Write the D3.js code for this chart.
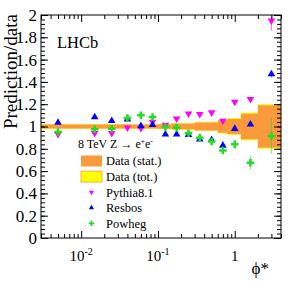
<!DOCTYPE html>
<html>
<head>
<meta charset="utf-8">
<script src="https://cdn.jsdelivr.net/npm/d3@7"></script>
<style>
  body { margin: 0; background: #fff; }
  svg { display: block; }
  text { font-family: "Liberation Serif", "Times New Roman", serif; fill: #000; }
</style>
</head>
<body>
<div id="chart"></div>
<script>
// phi* bins
const binLow  = [0, 0.01, 0.02, 0.03, 0.05, 0.07, 0.10, 0.15, 0.20, 0.30, 0.40, 0.60, 0.80, 1.20, 2.00];
const binHigh = [0.01, 0.02, 0.03, 0.05, 0.07, 0.10, 0.15, 0.20, 0.30, 0.40, 0.60, 0.80, 1.20, 2.00, 4.00];
const binCenter = [0.005, 0.015, 0.025, 0.04, 0.06, 0.085, 0.125, 0.175, 0.25, 0.35, 0.5, 0.7, 1.0, 1.6, 3.0];

// data uncertainty bands (half widths around 1)
const statErr = [0.018, 0.018, 0.018, 0.018, 0.018, 0.018, 0.02, 0.026, 0.026, 0.036, 0.036, 0.056, 0.068, 0.115, 0.19];
const totErr  = [0.021, 0.021, 0.021, 0.021, 0.021, 0.021, 0.024, 0.03, 0.03, 0.04, 0.04, 0.062, 0.076, 0.125, 0.2];

// predictions / data
const pythia    = [0.93, 0.94, 0.94, 0.99, 0.985, 1.04, 1.015, 1.07, 1.115, 1.11, 1.125, 1.05, 1.22, 1.245, 1.95];
const pythiaErr = [0.005, 0.005, 0.005, 0.005, 0.005, 0.005, 0.005, 0.005, 0.005, 0.005, 0.006, 0.008, 0.01, 0.02, 0.09];
const resbos    = [1.035, 1.085, 1.05, 1.065, 1.005, 1.015, 0.93, 0.93, 0.925, 0.885, 0.88, 0.83, 0.98, 1.02, 1.47];
const resbosErr = [0.005, 0.005, 0.005, 0.005, 0.005, 0.005, 0.005, 0.005, 0.005, 0.005, 0.006, 0.008, 0.01, 0.015, 0.03];
const powheg    = [0.95, 0.975, 0.98, 1.075, 1.10, 1.085, 0.995, 0.99, 0.94, 0.90, 0.865, 0.785, 0.84, 0.675, 0.915];
const powhegErr = [0.008, 0.008, 0.008, 0.008, 0.008, 0.008, 0.008, 0.01, 0.01, 0.012, 0.015, 0.02, 0.04, 0.06, 0.16];

const yTicks = [0, 0.2, 0.4, 0.6, 0.8, 1, 1.2, 1.4, 1.6, 1.8, 2];
const xMajor = [0.01, 0.1, 1];
const xLabels = [["10", "-2"], ["10", "-1"], ["1", ""]];

const legendItems = ["Data (stat.)", "Data (tot.)", "Pythia8.1", "Resbos", "Powheg"];

// layout
const WIDTH = 296, HEIGHT = 284;
const MARGINS = {left: 41, right: 15, top: 15, bottom: 46};
const VIS_W = WIDTH - MARGINS.left - MARGINS.right;
const VIS_H = HEIGHT - MARGINS.top - MARGINS.bottom;

const COL_STAT = "#fb9a3c", COL_TOT = "#ffff00";
const COL_PY = "#ff00ff", COL_RB = "#0000ff", COL_PW = "#22dd22";

const xScale = d3.scaleLog().domain([0.003, 4]).range([0, VIS_W]);
const yScale = d3.scaleLinear().domain([0, 2]).range([VIS_H, 0]);

const svg = d3.select("#chart").append("svg")
  .attr("width", WIDTH).attr("height", HEIGHT);

svg.append("defs").append("clipPath").attr("id", "clip")
  .append("rect").attr("width", VIS_W).attr("height", VIS_H);

const g = svg.append("g").attr("transform", `translate(${MARGINS.left},${MARGINS.top})`);
const plot = g.append("g").attr("clip-path", "url(#clip)");

const dmin = xScale.domain()[0];
const bx0 = i => xScale(Math.max(binLow[i], dmin));
const bx1 = i => xScale(binHigh[i]);

// bands: total then stat on top
plot.selectAll(".tot").data(binLow).join("rect")
  .attr("x", (d, i) => bx0(i)).attr("width", (d, i) => bx1(i) - bx0(i) + 0.3)
  .attr("y", (d, i) => yScale(1 + totErr[i]))
  .attr("height", (d, i) => yScale(1 - totErr[i]) - yScale(1 + totErr[i]))
  .attr("fill", COL_TOT);
plot.selectAll(".stat").data(binLow).join("rect")
  .attr("x", (d, i) => bx0(i)).attr("width", (d, i) => bx1(i) - bx0(i) + 0.3)
  .attr("y", (d, i) => yScale(1 + statErr[i]))
  .attr("height", (d, i) => yScale(1 - statErr[i]) - yScale(1 + statErr[i]))
  .attr("fill", COL_STAT);

const triUp = d3.symbol(d3.symbolTriangle).size(25)();
const cross = d3.symbol(d3.symbolCross).size(32)();

function series(vals, errs, color, path, rot) {
  const s = plot.append("g");
  s.selectAll("line").data(vals).join("line")
    .attr("x1", (d, i) => xScale(binCenter[i])).attr("x2", (d, i) => xScale(binCenter[i]))
    .attr("y1", (d, i) => yScale(d + errs[i])).attr("y2", (d, i) => yScale(d - errs[i]))
    .attr("stroke", color).attr("stroke-width", 1).attr("opacity", 0.6);
  s.selectAll("path").data(vals).join("path")
    .attr("d", path)
    .attr("transform", (d, i) => `translate(${xScale(binCenter[i])},${yScale(d)}) rotate(${rot})`)
    .attr("fill", color);
}
series(pythia, pythiaErr, COL_PY, triUp, 180);
series(resbos, resbosErr, COL_RB, triUp, 0);
series(powheg, powhegErr, COL_PW, cross, 0);

// axes (ticks inward)
const yMinor = d3.range(0, 2.0001, 0.04);
function yAxis(axisFn, tx, dir) {
  g.append("g").attr("transform", `translate(${tx},0)`)
    .call(axisFn(yScale).tickValues(yMinor).tickSize(dir * 4).tickFormat(""))
    .call(a => a.select(".domain").remove());
  g.append("g").attr("transform", `translate(${tx},0)`)
    .call(axisFn(yScale).tickValues(yTicks).tickSize(dir * 7).tickFormat(""))
    .call(a => a.select(".domain").remove());
}
yAxis(d3.axisLeft, 0, -1);
yAxis(d3.axisRight, VIS_W, -1);

const xMinor = [];
[0.001, 0.01, 0.1, 1].forEach(b => { for (let k = 2; k <= 9; k++) { const v = b * k; if (v >= 0.003 && v <= 4) xMinor.push(v); } });
function xAxis(axisFn, ty) {
  g.append("g").attr("transform", `translate(0,${ty})`)
    .call(axisFn(xScale).tickValues(xMinor).tickSize(-4).tickFormat(""))
    .call(a => a.select(".domain").remove());
  g.append("g").attr("transform", `translate(0,${ty})`)
    .call(axisFn(xScale).tickValues(xMajor).tickSize(-7).tickFormat(""))
    .call(a => a.select(".domain").remove());
}
xAxis(d3.axisBottom, VIS_H);
xAxis(d3.axisTop, 0);

g.append("rect").attr("width", VIS_W).attr("height", VIS_H)
  .attr("fill", "none").attr("stroke", "#000").attr("stroke-width", 1);

// tick labels
g.selectAll(".ylab").data(yTicks).join("text")
  .attr("x", -4).attr("y", d => yScale(d)).attr("dy", "0.35em")
  .attr("text-anchor", "end").attr("font-size", 17)
  .text(d => d3.format("")(d));

const xl = g.selectAll(".xlab").data(xMajor).join("text")
  .attr("x", d => xScale(d)).attr("y", VIS_H + 23)
  .attr("text-anchor", "middle").attr("font-size", 15);
xl.append("tspan").text((d, i) => xLabels[i][0]);
xl.append("tspan").attr("dy", -6).attr("font-size", 10).text((d, i) => xLabels[i][1]);

// axis titles
svg.append("text").attr("transform", `translate(17,${MARGINS.top - 1}) rotate(-90)`)
  .attr("text-anchor", "end").attr("font-size", 19).text("Prediction/data");
svg.append("text").attr("x", MARGINS.left + VIS_W - 12).attr("y", 274)
  .attr("text-anchor", "end").attr("font-size", 17).text("ϕ*");

// LHCb label
g.append("text").attr("x", 16).attr("y", 33).attr("font-size", 16.5).text("LHCb");

// legend
const leg = g.append("g").attr("transform", "translate(37,0)");
const lt = leg.append("text").attr("x", 0).attr("y", 133).attr("font-size", 12);
lt.append("tspan").text("8 TeV Z → e");
lt.append("tspan").attr("dy", -4).attr("font-size", 7.5).text("+");
lt.append("tspan").attr("dy", 4).text("e");
lt.append("tspan").attr("dy", -4).attr("font-size", 7.5).text("-");

const rowY = i => 146 + i * 15.6;
leg.append("rect").attr("x", 3).attr("y", rowY(0) - 5.5).attr("width", 21).attr("height", 11).attr("fill", COL_STAT);
leg.append("rect").attr("x", 3).attr("y", rowY(1) - 5.5).attr("width", 21).attr("height", 11).attr("fill", COL_TOT)
  .attr("stroke", COL_STAT).attr("stroke-width", 0.8);
const smallTri = d3.symbol(d3.symbolTriangle).size(12)();
leg.append("path").attr("d", smallTri).attr("transform", `translate(13.5,${rowY(2)}) rotate(180)`).attr("fill", COL_PY);
leg.append("path").attr("d", smallTri).attr("transform", `translate(13.5,${rowY(3)})`).attr("fill", COL_RB);
leg.append("path").attr("d", d3.symbol(d3.symbolCross).size(16)()).attr("transform", `translate(13.5,${rowY(4)})`).attr("fill", COL_PW);
leg.selectAll(".li").data(legendItems).join("text")
  .attr("x", 28).attr("y", (d, i) => rowY(i)).attr("dy", "0.35em")
  .attr("font-size", 12.5).text(d => d);
</script>
</body>
</html>
